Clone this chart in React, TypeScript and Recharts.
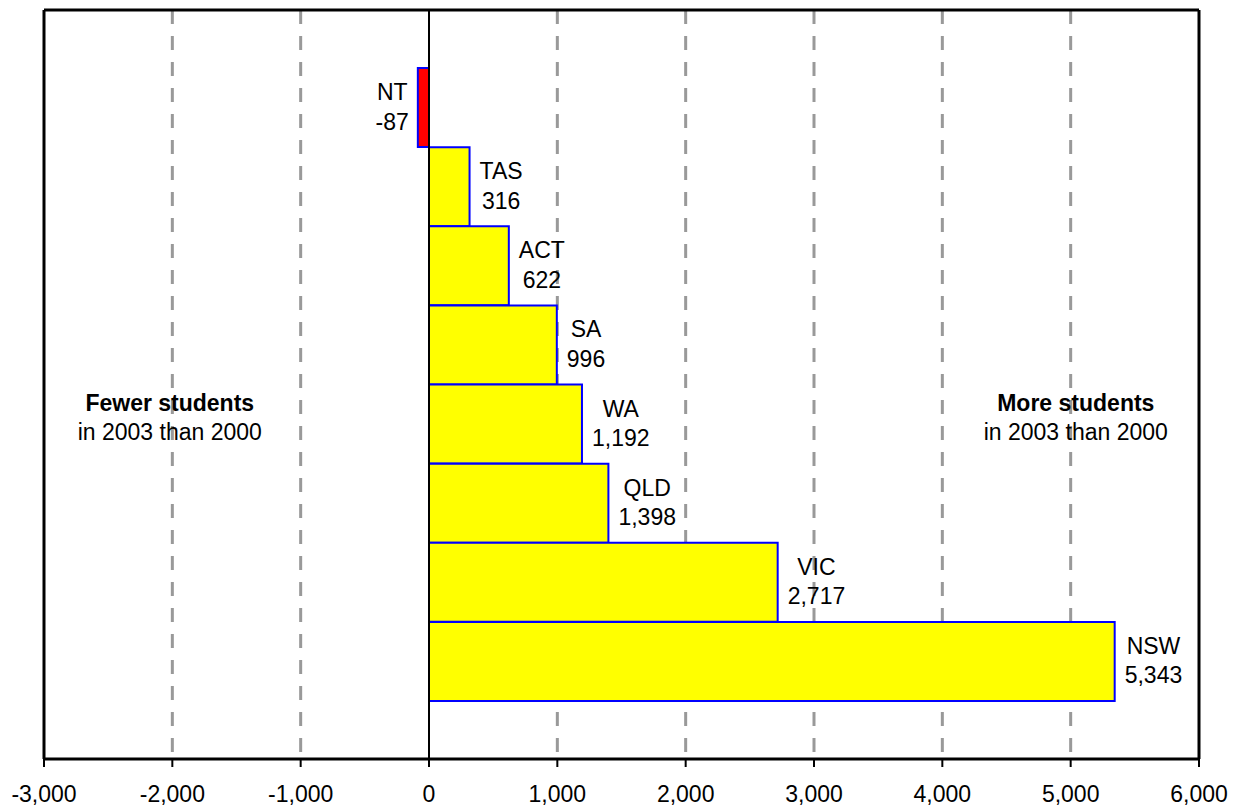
import React from 'react';
import {
  BarChart,
  Bar,
  XAxis,
  YAxis,
  CartesianGrid,
  ReferenceLine,
  ReferenceDot,
  Cell,
  LabelList,
} from 'recharts';

// Change in student numbers by state/territory, 2000 -> 2003
const states = ['NT', 'TAS', 'ACT', 'SA', 'WA', 'QLD', 'VIC', 'NSW'];
const changes = [-87, 316, 622, 996, 1192, 1398, 2717, 5343];

const xMin = -3000;
const xMax = 6000;
const xTicks = [-3000, -2000, -1000, 0, 1000, 2000, 3000, 4000, 5000, 6000];
const gridValues = [-2000, -1000, 1000, 2000, 3000, 4000, 5000];

const leftNoteTitle = 'Fewer students';
const rightNoteTitle = 'More students';
const noteSubtitle = 'in 2003 than 2000';
const leftNoteX = -2020;
const rightNoteX = 5040;
const noteRow = 'WA';

const data = states.map((state, i) => ({ state, change: changes[i] }));

const FONT = '"Liberation Sans", Arial, Helvetica, sans-serif';
const fmt = (v: number) => v.toLocaleString('en-US');

let measureCtx: CanvasRenderingContext2D | null = null;
const textWidth = (s: string, size: number, weight = 'normal') => {
  if (!measureCtx && typeof document !== 'undefined') {
    measureCtx = document.createElement('canvas').getContext('2d');
  }
  if (measureCtx) {
    measureCtx.font = `${weight} ${size}px ${FONT}`;
    return measureCtx.measureText(s).width;
  }
  return s.length * size * 0.56;
};

const BarLabel = (props: any) => {
  const vb = props.viewBox || props;
  const x = Number(vb.x);
  const y = Number(vb.y);
  const w = Number(vb.width);
  const h = Number(vb.height);
  const idx = props.index;
  const value = Number(props.value);
  const name = states[idx];
  const valText = fmt(value);
  const size = 23;
  const blockW = Math.max(textWidth(name, size), textWidth(valText, size));
  const cy = y + h / 2;
  let cx: number;
  if (value >= 0) {
    const end = Math.max(x, x + w);
    cx = end + 10 + blockW / 2;
  } else {
    const end = Math.min(x, x + w);
    cx = end - 9 - blockW / 2;
  }
  return (
    <text textAnchor="middle" fontFamily={FONT} fontSize={size} fill="#000">
      <tspan x={cx} y={cy - 7.5}>{name}</tspan>
      <tspan x={cx} y={cy + 22}>{valText}</tspan>
    </text>
  );
};

const renderTick = (props: any) => {
  const { x, y, payload } = props;
  return (
    <text
      x={x}
      y={y + 33}
      textAnchor="middle"
      fill="#000"
      style={{ fontFamily: FONT, fontSize: 23 }}
    >
      {fmt(payload.value)}
    </text>
  );
};

const makeNote = (title: string) => (p: any) => (
  <text textAnchor="middle" fill="#000" style={{ fontFamily: FONT, fontSize: 23 }}>
    <tspan x={p.cx} y={p.cy - 13} fontWeight="bold">{title}</tspan>
    <tspan x={p.cx} y={p.cy + 15.5}>{noteSubtitle}</tspan>
  </text>
);

export default function App() {
  return (
    <div style={{ position: 'absolute', left: 0, top: 0, width: 1244, height: 808, background: '#fff' }}>
      <BarChart
        width={1244}
        height={808}
        data={data}
        layout="vertical"
        margin={{ top: 9, right: 45, bottom: 0, left: 44 }}
        barCategoryGap={0}
        barGap={0}
      >
        <CartesianGrid
          horizontal={false}
          vertical
          verticalValues={gridValues}
          stroke="#999999"
          strokeWidth={3}
          strokeDasharray="14 12"
        />
        <XAxis
          type="number"
          domain={[xMin, xMax]}
          ticks={xTicks}
          allowDataOverflow
          height={49}
          axisLine={{ stroke: '#000', strokeWidth: 3 }}
          tickLine={{ stroke: '#000', strokeWidth: 2 }}
          tickSize={8}
          tick={renderTick}
          interval={0}
        />
        {/* top border of the plot frame */}
        <XAxis
          xAxisId="top"
          orientation="top"
          type="number"
          domain={[xMin, xMax]}
          ticks={[xMin, xMax]}
          allowDataOverflow
          height={1}
          axisLine={{ stroke: '#000', strokeWidth: 3 }}
          tick={false}
          tickLine={false}
        />
        <YAxis type="category" dataKey="state" hide width={0} padding={{ top: 58, bottom: 58 }} />
        <Bar dataKey="change" stroke="#0000FF" strokeWidth={2} isAnimationActive={false}>
          {data.map((d) => (
            <Cell key={d.state} fill={d.change < 0 ? '#FF0000' : '#FFFF00'} />
          ))}
          <LabelList dataKey="change" content={<BarLabel />} />
        </Bar>
        <ReferenceLine x={0} stroke="#000" strokeWidth={2} />
        <ReferenceLine x={xMin} stroke="#000" strokeWidth={3} />
        <ReferenceLine x={xMax} stroke="#000" strokeWidth={3} />
        <ReferenceDot x={leftNoteX} y={noteRow} r={0} ifOverflow="visible" shape={makeNote(leftNoteTitle)} />
        <ReferenceDot x={rightNoteX} y={noteRow} r={0} ifOverflow="visible" shape={makeNote(rightNoteTitle)} />
      </BarChart>
    </div>
  );
}
